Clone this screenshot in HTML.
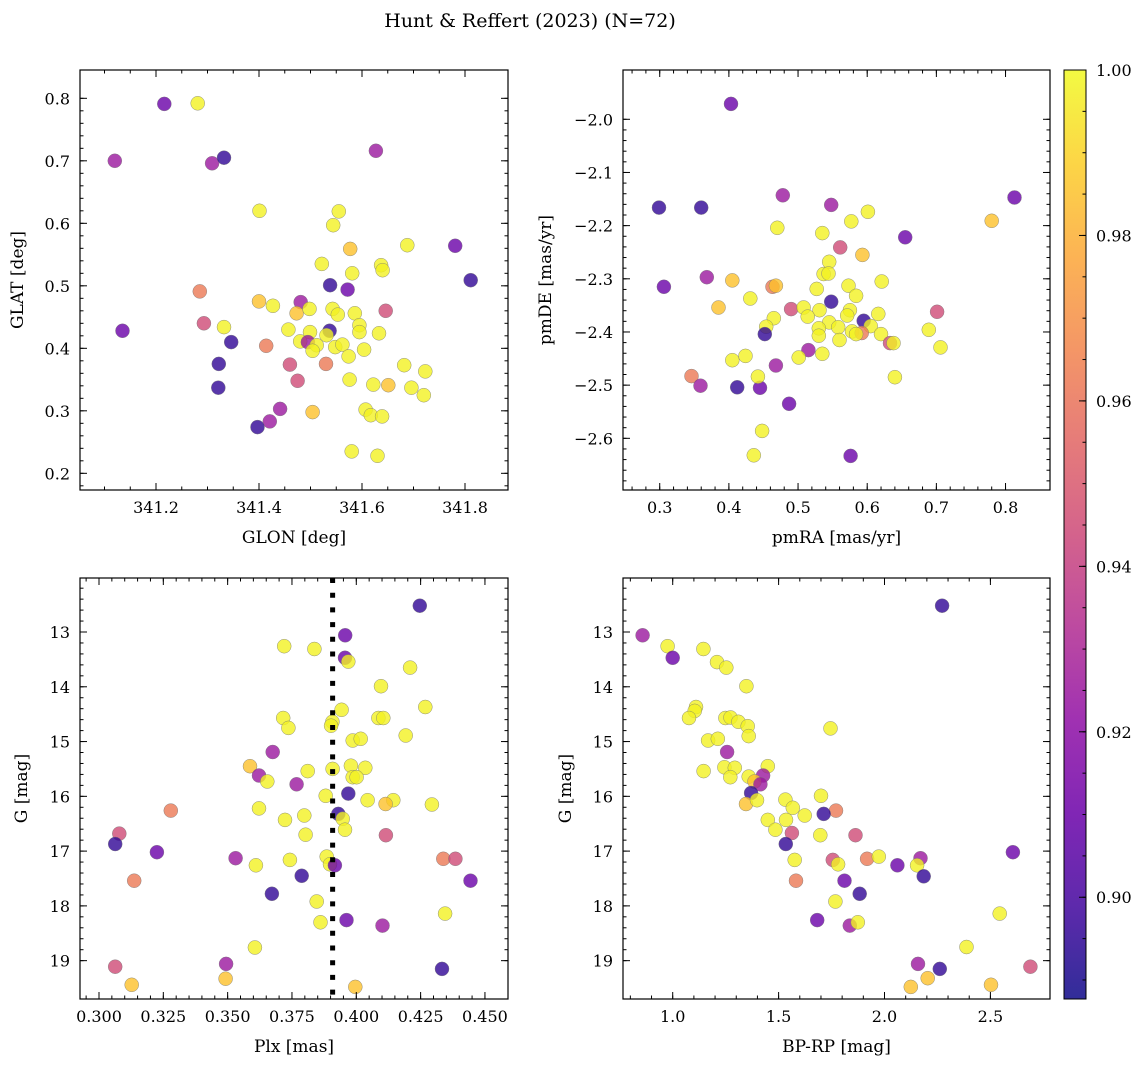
<!DOCTYPE html>
<html><head><meta charset="utf-8">
<style>
html,body{margin:0;padding:0;background:#fff;}
svg{display:block;font-family:"DejaVu Serif","Liberation Serif",serif;}
</style></head>
<body>
<svg id="fig" width="1148" height="1068" viewBox="0 0 1148 1068" xmlns="http://www.w3.org/2000/svg">
<text x="530" y="27" font-size="19" text-anchor="middle">Hunt &amp; Reffert (2023) (N=72)</text>
</svg>
<script>
// ---- data ----
const glon = [341.216,341.281,341.120,341.309,341.332,341.627,341.401,341.555,341.544,341.577,341.688,341.781,341.522,341.637,341.640,341.581,341.811,341.538,341.572,341.285,341.400,341.427,341.481,341.473,341.498,341.543,341.553,341.586,341.646,341.293,341.135,341.332,341.457,341.595,341.595,341.499,341.537,341.531,341.633,341.346,341.480,341.495,341.512,341.504,341.548,341.562,341.604,341.414,341.574,341.322,341.460,341.530,341.682,341.723,341.475,341.576,341.622,341.651,341.696,341.720,341.321,341.441,341.421,341.397,341.504,341.607,341.617,341.639,341.580,341.630];
const glat = [0.791,0.792,0.700,0.696,0.705,0.716,0.620,0.619,0.597,0.559,0.565,0.564,0.535,0.533,0.525,0.520,0.509,0.501,0.494,0.491,0.475,0.468,0.474,0.456,0.463,0.463,0.454,0.456,0.460,0.440,0.428,0.434,0.430,0.437,0.426,0.426,0.428,0.421,0.424,0.410,0.411,0.410,0.405,0.396,0.402,0.406,0.398,0.404,0.387,0.375,0.374,0.375,0.373,0.363,0.348,0.350,0.342,0.341,0.337,0.325,0.337,0.303,0.283,0.274,0.298,0.302,0.293,0.291,0.235,0.228];
const probTL = [.91,.998,.925,.925,.895,.925,.998,.998,.998,.985,.998,.91,.998,.998,.998,.998,.895,.895,.91,.962,.985,.998,.925,.985,.998,.998,.998,.998,.945,.945,.91,.998,.998,.998,.998,.998,.895,.998,.998,.895,.998,.925,.998,.998,.998,.998,.998,.962,.998,.895,.945,.962,.998,.998,.945,.998,.998,.985,.998,.998,.895,.925,.925,.895,.985,.998,.998,.998,.998,.998];

const pmra = [0.403,0.299,0.360,0.478,0.548,0.813,0.601,0.577,0.780,0.470,0.535,0.655,0.561,0.593,0.545,0.537,0.544,0.621,0.306,0.368,0.405,0.463,0.468,0.527,0.573,0.584,0.431,0.385,0.548,0.490,0.508,0.531,0.514,0.575,0.571,0.616,0.701,0.595,0.605,0.465,0.454,0.452,0.545,0.558,0.530,0.530,0.578,0.592,0.584,0.620,0.689,0.633,0.638,0.560,0.515,0.535,0.501,0.706,0.405,0.424,0.468,0.346,0.359,0.412,0.445,0.442,0.640,0.487,0.448,0.436,0.576];
const pmde = [-1.971,-2.166,-2.166,-2.143,-2.161,-2.147,-2.174,-2.192,-2.191,-2.204,-2.214,-2.222,-2.241,-2.255,-2.268,-2.291,-2.290,-2.305,-2.315,-2.297,-2.303,-2.315,-2.313,-2.319,-2.313,-2.332,-2.337,-2.354,-2.343,-2.357,-2.354,-2.359,-2.371,-2.359,-2.369,-2.366,-2.362,-2.379,-2.389,-2.374,-2.390,-2.404,-2.382,-2.391,-2.393,-2.407,-2.399,-2.402,-2.404,-2.404,-2.396,-2.421,-2.421,-2.415,-2.434,-2.441,-2.448,-2.429,-2.453,-2.445,-2.463,-2.483,-2.501,-2.504,-2.505,-2.484,-2.485,-2.535,-2.586,-2.632,-2.633];
const probTR = [.91,.895,.895,.925,.925,.91,.998,.998,.985,.998,.998,.91,.945,.985,.998,.998,.998,.998,.91,.925,.985,.962,.985,.998,.998,.998,.998,.985,.895,.945,.998,.998,.998,.998,.998,.998,.945,.895,.998,.998,.998,.895,.998,.998,.998,.998,.998,.962,.998,.998,.998,.945,.998,.998,.925,.998,.998,.998,.998,.998,.925,.962,.925,.895,.91,.998,.998,.91,.998,.998,.91];

const plx = [0.4247,0.3957,0.3720,0.3837,0.3956,0.3969,0.4209,0.4096,0.4268,0.3943,0.4086,0.4105,0.3716,0.3736,0.3907,0.3902,0.4192,0.3986,0.4017,0.3675,0.3587,0.3622,0.3654,0.3811,0.3908,0.3979,0.4035,0.3986,0.4001,0.3768,0.3969,0.3881,0.4044,0.4144,0.4114,0.4294,0.3279,0.3622,0.3930,0.3947,0.3723,0.3798,0.3956,0.3803,0.4115,0.3079,0.3063,0.3225,0.3531,0.3610,0.3742,0.3885,0.3898,0.3917,0.3788,0.4338,0.4385,0.4444,0.3137,0.3672,0.3846,0.3861,0.3962,0.4102,0.4345,0.3606,0.3063,0.3494,0.4333,0.3127,0.3492,0.3996];
const gBL = [12.52,13.06,13.26,13.31,13.47,13.54,13.65,13.99,14.37,14.42,14.57,14.57,14.57,14.75,14.64,14.71,14.89,14.98,14.95,15.19,15.45,15.62,15.73,15.54,15.50,15.44,15.48,15.65,15.65,15.78,15.95,15.99,16.07,16.07,16.14,16.15,16.26,16.22,16.32,16.41,16.43,16.35,16.61,16.70,16.71,16.68,16.87,17.02,17.13,17.26,17.16,17.10,17.24,17.26,17.45,17.14,17.14,17.54,17.54,17.78,17.92,18.30,18.26,18.36,18.14,18.76,19.11,19.06,19.15,19.44,19.33,19.48];
const probBL = [.895,.91,.998,.998,.91,.998,.998,.998,.998,.998,.998,.998,.998,.998,.998,.998,.998,.998,.998,.925,.985,.925,.998,.998,.998,.998,.998,.998,.998,.925,.895,.998,.998,.998,.985,.998,.962,.998,.895,.998,.998,.998,.998,.998,.945,.945,.895,.91,.925,.998,.998,.998,.998,.91,.895,.962,.945,.91,.962,.895,.998,.998,.91,.925,.998,.998,.945,.925,.895,.985,.985,.985];
const meanPlx = 0.3908;

const bprp = [0.858,0.976,1.000,1.145,1.209,1.253,1.348,1.110,1.104,1.077,1.249,1.273,1.310,1.354,1.359,1.745,1.167,1.213,1.257,1.146,1.244,1.293,1.272,1.449,1.359,1.427,1.386,1.414,1.370,1.700,1.346,1.398,1.532,1.567,1.771,1.713,1.623,1.449,1.535,1.485,1.563,1.697,1.863,1.534,1.576,1.756,1.781,1.918,1.973,2.061,2.170,2.154,2.185,2.606,1.582,1.811,1.883,1.768,1.682,1.836,1.874,2.544,2.387,2.158,2.261,2.689,2.204,2.503,2.124,2.272];
const gBR = [13.06,13.26,13.47,13.31,13.55,13.65,13.99,14.37,14.44,14.57,14.57,14.56,14.64,14.72,14.90,14.76,14.98,14.95,15.19,15.54,15.47,15.48,15.65,15.45,15.64,15.62,15.73,15.78,15.94,15.99,16.14,16.07,16.06,16.21,16.26,16.32,16.35,16.43,16.43,16.61,16.67,16.71,16.71,16.87,17.16,17.16,17.24,17.14,17.10,17.26,17.13,17.26,17.46,17.02,17.54,17.54,17.78,17.92,18.26,18.36,18.30,18.14,18.75,19.06,19.15,19.11,19.32,19.44,19.48,12.52];
const probBR = [.925,.998,.91,.998,.998,.998,.998,.998,.998,.998,.998,.998,.998,.998,.998,.998,.998,.998,.925,.998,.998,.998,.998,.998,.998,.925,.985,.925,.895,.998,.985,.998,.998,.998,.962,.895,.998,.998,.998,.998,.945,.998,.945,.895,.998,.945,.998,.962,.998,.91,.925,.998,.895,.91,.962,.91,.895,.998,.91,.925,.998,.998,.998,.925,.895,.945,.985,.985,.985,.895];

const cbTicks = [0.90,0.92,0.94,0.96,0.98,1.00];
const vmin = 0.8877, vmax = 1.0;

// ---- helpers ----
const NS = "http://www.w3.org/2000/svg";
const svg = document.getElementById('fig');
function mk(tag, attrs, parent) {
  const e = document.createElementNS(NS, tag);
  for (const k in attrs) e.setAttribute(k, attrs[k]);
  (parent || svg).appendChild(e);
  return e;
}
const stops = ["#0d0887","#41049d","#6a00a8","#8f0da4","#b12a90","#cc4778","#e16462","#f2844b","#fca636","#fcce25","#f0f921"];
function hex(h){return [parseInt(h.substr(1,2),16),parseInt(h.substr(3,2),16),parseInt(h.substr(5,2),16)];}
function plasma(t){
  t=Math.max(0,Math.min(1,t));
  const p=t*10, i=Math.min(9,Math.floor(p)), f=p-i;
  const a=hex(stops[i]), b=hex(stops[i+1]);
  return "rgb("+a.map((v,k)=>Math.round(v+(b[k]-v)*f)).join(",")+")";
}
function fmt(v, d){ const s=Math.abs(v).toFixed(d); return (v<-1e-9?"\u2212":"")+s; }

function panel(name, box, xd, yd, xs, ys, xlabel, ylabel, xv, yv, pv, extra) {
  const [L,T,R,B] = box;
  const X = v => L + (v - xd[0])/(xd[1]-xd[0])*(R-L);
  const Y = v => yd[2] ? T + (v - yd[0])/(yd[1]-yd[0])*(B-T) : B - (v - yd[0])/(yd[1]-yd[0])*(B-T);
  const g = mk('g', {});
  
  
  const clip = mk('clipPath', {id:'c-'+name}, g);
  mk('rect', {x:L,y:T,width:R-L,height:B-T}, clip);
  const pts = mk('g', {'clip-path':'url(#c-'+name+')'}, g);
  
  
  for (let i=0;i<xv.length;i++){
    const c = mk('circle', {cx:X(xv[i]).toFixed(1), cy:Y(yv[i]).toFixed(1), r:7,
      fill:plasma((pv[i]-vmin)/(vmax-vmin)), 'fill-opacity':0.8, stroke:'#777', 'stroke-width':0.5, 'stroke-opacity':0.8}, pts);
    
    
  }
  if (extra) extra(g, X, Y);
  // ticks
  const tk = mk('g', {stroke:'#000','stroke-width':1}, g);
  function ticks(lo, hi, step, len, axis){
    const n = Math.round((hi-lo)/step);
    for (let k=0;k<=n;k++){
      const v = lo + k*step;
      if (axis==='x'){ const x=X(v); if(x<L-0.5||x>R+0.5)continue;
        mk('line',{x1:x,x2:x,y1:B,y2:B-len},tk); mk('line',{x1:x,x2:x,y1:T,y2:T+len},tk);}
      else { const y=Y(v); if(y<T-0.5||y>B+0.5)continue;
        mk('line',{x1:L,x2:L+len,y1:y,y2:y},tk); mk('line',{x1:R,x2:R-len,y1:y,y2:y},tk);}
    }
  }
  ticks(xs.minLo, xs.hi, xs.minor, 3.5, 'x');
  ticks(xs.lo, xs.hi, xs.major, 7, 'x');
  ticks(ys.minLo, ys.hi, ys.minor, 3.5, 'y');
  ticks(ys.lo, ys.hi, ys.major, 7, 'y');
  // labels
  const nx = Math.round((xs.hi-xs.lo)/xs.major);
  for (let k=0;k<=nx;k++){ const v=xs.lo+k*xs.major; const x=X(v); if(x<L-1||x>R+1)continue;
    const t=mk('text',{x:x,y:B+23,'font-size':16,'text-anchor':'middle'},g); t.textContent=fmt(v,xs.d);
      }
  const ny = Math.round((ys.hi-ys.lo)/ys.major);
  for (let k=0;k<=ny;k++){ const v=ys.lo+k*ys.major; const y=Y(v); if(y<T-1||y>B+1)continue;
    const t=mk('text',{x:L-10,y:y+6,'font-size':16,'text-anchor':'end'},g); t.textContent=fmt(v,ys.d);
      }
  mk('rect',{x:L,y:T,width:R-L,height:B-T,fill:'none',stroke:'#000','stroke-width':1.2},g);
  const xl = mk('text',{x:(L+R)/2,y:B+53,'font-size':17,'text-anchor':'middle'},g); xl.textContent=xlabel;
   
  const yx = ys.lx, yy=(T+B)/2;
  const yl = mk('text',{x:yx,y:yy,'font-size':17,'text-anchor':'middle',transform:'rotate(-90 '+yx+' '+yy+')'},g); yl.textContent=ylabel;
   
}

panel('glon-glat-panel',[80,70,508,490],[341.0524,341.8835],[0.1733,0.8453],
  {lo:341.2,hi:341.8001,major:0.2,minLo:341.05,minor:0.05,d:1},
  {lo:0.2,hi:0.8001,major:0.1,minLo:0.18,minor:0.02,d:1,lx:23},
  'GLON [deg]','GLAT [deg]',glon,glat,probTL);

panel('pm-panel',[623,70,1050,490],[0.2469,0.8643],[-2.6972,-1.9073],
  {lo:0.3,hi:0.8001,major:0.1,minLo:0.26,minor:0.02,d:1},
  {lo:-2.7,hi:-1.9999,major:0.1,minLo:-2.7,minor:0.02,d:1,lx:551},
  'pmRA [mas/yr]','pmDE [mas/yr]',pmra,pmde,probTR);

panel('plx-g-panel',[80,578,508,999],[0.29262,0.45896],[12.014,19.70,true],
  {lo:0.3,hi:0.4501,major:0.025,minLo:0.295,minor:0.005,d:3},
  {lo:13,hi:19.001,major:1,minLo:12.2,minor:0.2,d:0,lx:27},
  'Plx [mas]','G [mag]',plx,gBL,probBL,
  function(g,X,Y){ const l=mk('line',{x1:X(meanPlx),x2:X(meanPlx),y1:578,y2:999,stroke:'#000','stroke-width':5,'stroke-dasharray':'5 9.7'},g);
      });

panel('cmd-panel',[623,578,1050,999],[0.7653,2.7814],[12.014,19.70,true],
  {lo:1.0,hi:2.5001,major:0.5,minLo:0.8,minor:0.1,d:1},
  {lo:13,hi:19.001,major:1,minLo:12.2,minor:0.2,d:0,lx:571},
  'BP-RP [mag]','G [mag]',bprp,gBR,probBR);

// ---- colorbar ----
(function(){
  const L=1064,R=1086,T=70,B=999;
  const cb = mk('g',{});
  
  
  const defs = mk('defs',{},cb);
  const grad = mk('linearGradient',{id:'plasmaGrad',x1:0,y1:1,x2:0,y2:0},defs);
  for (let i=0;i<=20;i++){ mk('stop',{offset:(i/20),'stop-color':plasma(i/20),'stop-opacity':0.85},grad); }
  mk('rect',{x:L,y:T,width:R-L,height:B-T,fill:'url(#plasmaGrad)',stroke:'#000','stroke-width':1},cb);
  const Y = v => B - (v-vmin)/(vmax-vmin)*(B-T);
  for (let v=0.89; v<=1.0001; v+=0.005){ const y=Y(v); if(y<T||y>B)continue; mk('line',{x1:R,x2:R-3.5,y1:y,y2:y,stroke:'#000'},cb); }
  for (const v of cbTicks){ const y=Y(v);
    mk('line',{x1:R,x2:R-7,y1:y,y2:y,stroke:'#000'},cb);
    const t=mk('text',{x:R+10,y:y+6,'font-size':16},cb); t.textContent=v.toFixed(2);
      }
})();
</script>
</body></html>
